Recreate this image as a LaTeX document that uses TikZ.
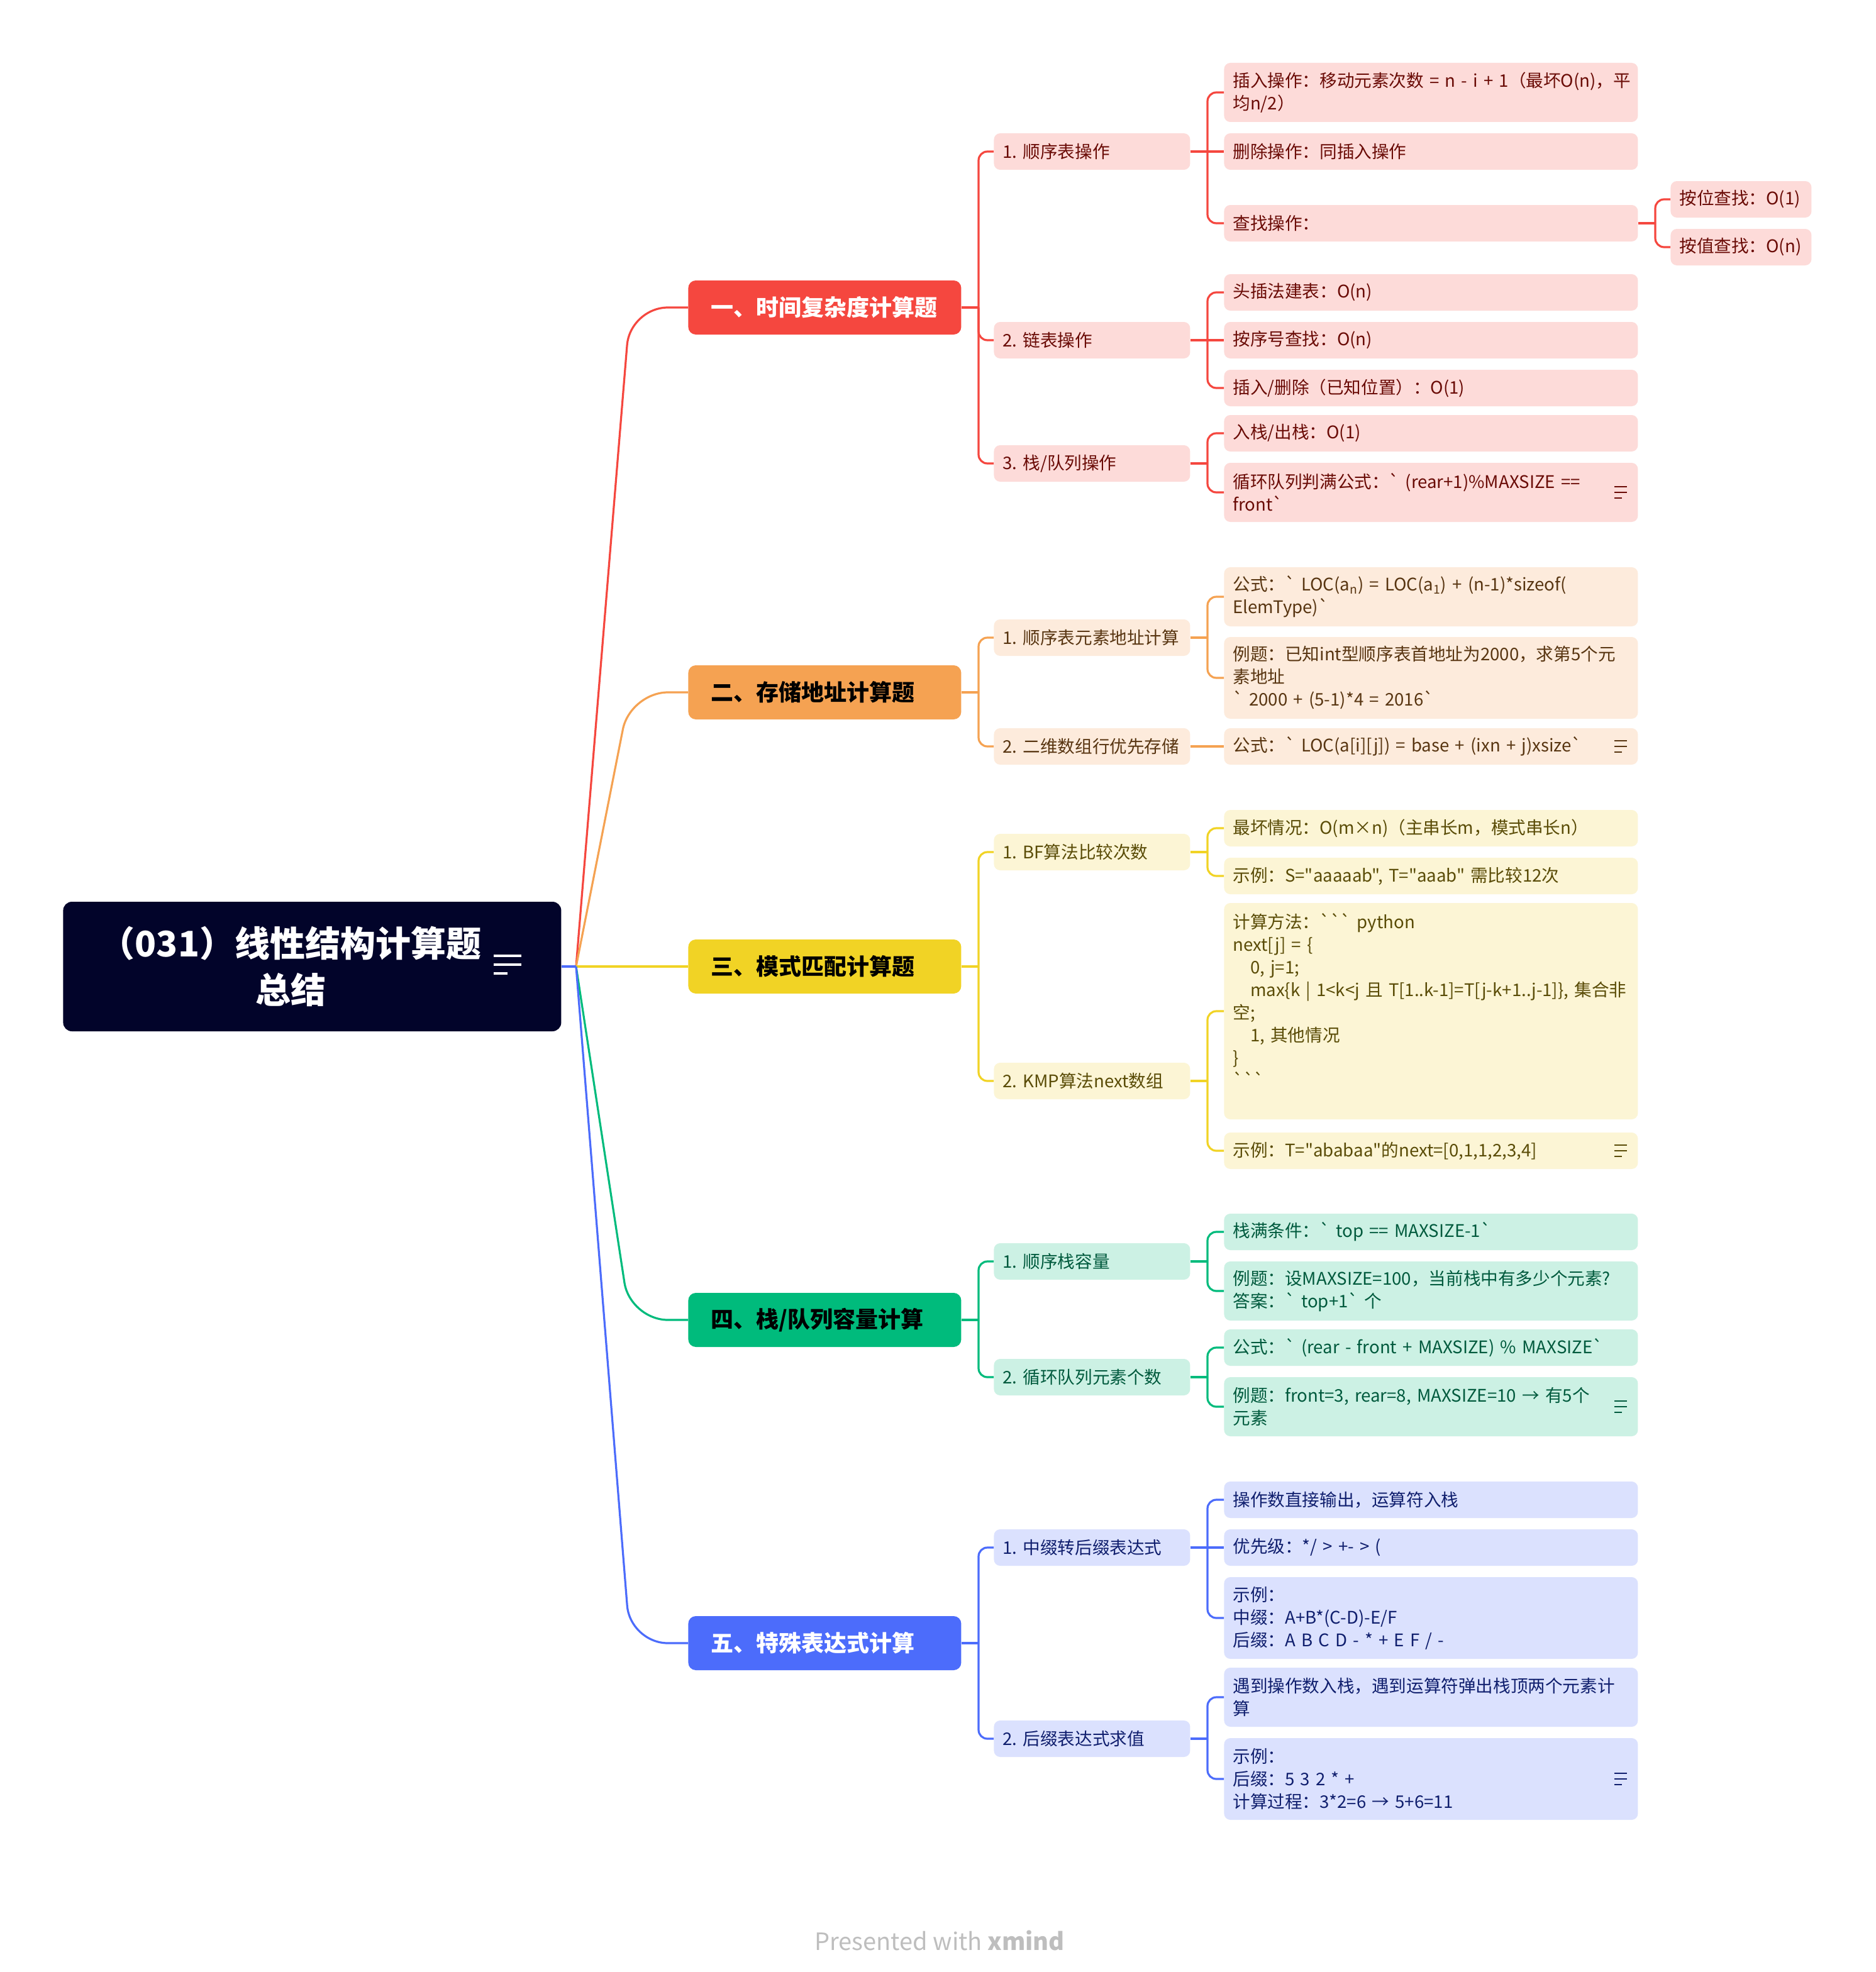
\documentclass[tikz,border=0pt]{standalone}
\usepackage{fontspec}
\newfontfamily\nf{Noto Sans CJK SC}
\usetikzlibrary{calc}
\definecolor{rootC}{HTML}{02042A}
\definecolor{redM}{HTML}{F5473F}
\definecolor{redL}{HTML}{FDDBD9}
\definecolor{redD}{HTML}{6A0B06}
\definecolor{orM}{HTML}{F5A252}
\definecolor{orL}{HTML}{FDEBDC}
\definecolor{orD}{HTML}{583511}
\definecolor{yeM}{HTML}{F1D325}
\definecolor{yeL}{HTML}{FCF5D5}
\definecolor{yeD}{HTML}{5A4C07}
\definecolor{grM}{HTML}{00BB7C}
\definecolor{grL}{HTML}{CCF1E4}
\definecolor{grD}{HTML}{005A3D}
\definecolor{blM}{HTML}{4C6CFB}
\definecolor{blL}{HTML}{DBE1FE}
\definecolor{blD}{HTML}{101F6E}
\definecolor{footC}{HTML}{BEBEBE}
\newcommand\mystub[3]{\draw[#1] (#2.east) -- (#2.east -| #3);}
\newcommand\mylink[4]{\draw[#1, rounded corners=7pt] (#2.east -| #3) |- (#4.west);}
\newcommand\noteicon[2]{%
  \draw[#2, line width=1.1pt]
    ([xshift=-19pt,yshift=4.5pt]#1.east) -- ([xshift=-9pt,yshift=4.5pt]#1.east)
    ([xshift=-19pt]#1.east) -- ([xshift=-9pt]#1.east)
    ([xshift=-19pt,yshift=-4.5pt]#1.east) -- ([xshift=-13pt,yshift=-4.5pt]#1.east);}
\begin{document}
\begin{tikzpicture}[x=1pt,y=-1pt,
  basebox/.style={rectangle, rounded corners=5pt, anchor=west, inner ysep=0pt, align=left,
    font=\nf\fontsize{13.8pt}{18pt}\selectfont\frenchspacing},
  lvC/.style={basebox, text width=315pt, inner xsep=7pt, minimum width=329pt, minimum height=29pt},
  lvD/.style={basebox, text width=98pt, inner xsep=7pt, minimum width=112pt, minimum height=29pt},
  lvB/.style={basebox, text width=142pt, inner xsep=7pt, minimum width=156pt, minimum height=29pt},
  lvA/.style={rectangle, rounded corners=6pt, anchor=west, inner ysep=0pt, align=left,
    text width=181pt, inner xsep=18pt, minimum width=217pt, minimum height=43pt,
    font=\nf\bfseries\fontsize{18pt}{22pt}\selectfont},
  bR/.style={fill=redL, text=redD},
  bO/.style={fill=orL, text=orD},
  bY/.style={fill=yeL, text=yeD},
  bG/.style={fill=grL, text=grD},
  bB/.style={fill=blL, text=blD},
  lR/.style={draw=redM, line width=1.6pt},
  lO/.style={draw=orM, line width=1.6pt},
  lY/.style={draw=yeM, line width=1.6pt},
  lG/.style={draw=grM, line width=1.6pt},
  lB/.style={draw=blM, line width=1.6pt},
  h2/.style={minimum height=47pt},
  h3/.style={minimum height=65pt}]
\fill[white] (0,0) rectangle (1491,1568);
\useasboundingbox (0,0) rectangle (1491,1568);

% junction columns
\coordinate (j1) at (778,0);
\coordinate (j2) at (960,0);
\coordinate (j3) at (1316,0);
\coordinate (jx) at (501,0);

% root
\node[rectangle, rounded corners=7pt, fill=rootC, minimum width=396pt, minimum height=103pt,
  anchor=west, inner sep=0pt] (rootbox) at (50,768.5) {};
\node[text=white, align=center, inner sep=0pt,
  font=\nf\bfseries\fontsize{28pt}{37pt}\selectfont] (root) at (231,768.5) {（031）线性结构计算题\\总结};
\coordinate (jr) at (458,768.5);

% level 1
\node[lvA, fill=redM, text=white] (A) at (547,244.5) {一、时间复杂度计算题};
\node[lvA, fill=orM, text=black] (B) at (547,550.5) {二、存储地址计算题};
\node[lvA, fill=yeM, text=black] (C) at (547,768.5) {三、模式匹配计算题};
\node[lvA, fill=grM, text=black] (D) at (547,1049.5) {四、栈/队列容量计算};
\node[lvA, fill=blM, text=white] (E) at (547,1306.5) {五、特殊表达式计算};

% level 2
\node[lvB,bR] (A1) at (790,120.5) {\mbox{1. 顺序表操作}};
\node[lvB,bR] (A2) at (790,270.5) {\mbox{2. 链表操作}};
\node[lvB,bR] (A3) at (790,368.5) {\mbox{3. 栈/队列操作}};
\node[lvB,bO] (B1) at (790,507) {\mbox{1. 顺序表元素地址计算}};
\node[lvB,bO] (B2) at (790,593.5) {\mbox{2. 二维数组行优先存储}};
\node[lvB,bY] (C1) at (790,677.5) {\mbox{1. BF算法比较次数}};
\node[lvB,bY] (C2) at (790,859.5) {\mbox{2. KMP算法next数组}};
\node[lvB,bG] (D1) at (790,1003) {\mbox{1. 顺序栈容量}};
\node[lvB,bG] (D2) at (790,1095) {\mbox{2. 循环队列元素个数}};
\node[lvB,bB] (E1) at (790,1230.5) {\mbox{1. 中缀转后缀表达式}};
\node[lvB,bB] (E2) at (790,1382.5) {\mbox{2. 后缀表达式求值}};

% level 3 red
\node[lvC,bR,h2] (A11) at (973,73.5) {\mbox{插入操作：移动元素次数 = n - i + 1（最坏O(n)，平}\\均n/2）};
\node[lvC,bR] (A12) at (973,120.5) {删除操作：同插入操作};
\node[lvC,bR] (A13) at (973,177.5) {查找操作：};
\node[lvD,bR] (A131) at (1328,158.5) {按位查找：O(1)};
\node[lvD,bR] (A132) at (1328,196.5) {按值查找：O(n)};
\node[lvC,bR] (A21) at (973,232.5) {头插法建表：O(n)};
\node[lvC,bR] (A22) at (973,270.5) {按序号查找：O(n)};
\node[lvC,bR] (A23) at (973,308.5) {插入/删除（已知位置）：O(1)};
\node[lvC,bR] (A31) at (973,344.5) {入栈/出栈：O(1)};
\node[lvC,bR,h2] (A32) at (973,391.5) {\mbox{循环队列判满公式：` (rear+1)\%MAXSIZE ==}\\front`};

% level 3 orange
\node[lvC,bO,h2] (B11) at (973,474.5) {\mbox{公式：` LOC(a\textsubscript{n}) = LOC(a\textsubscript{1}) + (n-1)*sizeof(}\\ElemType)`};
\node[lvC,bO,h3] (B12) at (973,539) {\mbox{例题：已知int型顺序表首地址为2000，求第5个元}\\素地址\\` 2000 + (5-1)*4 = 2016`};
\node[lvC,bO] (B21) at (973,593.5) {\mbox{公式：` LOC(a[i][j]) = base + (ixn + j)xsize`}};

% level 3 yellow
\node[lvC,bY] (C11) at (973,658.5) {\mbox{最坏情况：O(m×n)（主串长m，模式串长n）}};
\node[lvC,bY] (C12) at (973,696.5) {\mbox{示例：S="aaaaab", T="aaab" 需比较12次}};
\node[lvC,bY,minimum height=172pt] (C21) at (973,804) {计算方法：``` python\\next[j] = \{\\\hspace*{1em}0, j=1;\\\mbox{\hspace*{1em}max\{k | 1<k<j 且 T[1..k-1]=T[j-k+1..j-1]\}, 集合非}\\空;\\\hspace*{1em}1, 其他情况\\\}\\```\\\mbox{}};
\node[lvC,bY] (C22) at (973,915) {\mbox{示例：T="ababaa"的next=[0,1,1,2,3,4]}};

% level 3 green
\node[lvC,bG] (D11) at (973,979.5) {\mbox{栈满条件：` top == MAXSIZE-1`}};
\node[lvC,bG,h2] (D12) at (973,1026.5) {\mbox{例题：设MAXSIZE=100，当前栈中有多少个元素?}\\答案：` top+1` 个};
\node[lvC,bG] (D21) at (973,1071.5) {\mbox{公式：` (rear - front + MAXSIZE) \% MAXSIZE`}};
\node[lvC,bG,h2] (D22) at (973,1118.5) {\mbox{例题：front=3, rear=8, MAXSIZE=10 → 有5个}\\元素};

% level 3 blue
\node[lvC,bB] (E11) at (973,1192.5) {操作数直接输出，运算符入栈};
\node[lvC,bB] (E12) at (973,1230.5) {优先级：*/ > +- > (};
\node[lvC,bB,h3] (E13) at (973,1286.5) {示例：\\中缀：A+B*(C-D)-E/F\\后缀：A B C D - * + E F / -};
\node[lvC,bB,h2] (E21) at (973,1349.5) {\mbox{遇到操作数入栈，遇到运算符弹出栈顶两个元素计}\\算};
\node[lvC,bB,h3] (E22) at (973,1414.5) {示例：\\后缀：5 3 2 * +\\计算过程：3*2=6 → 5+6=11};

% footer
\node[font=\nf\fontsize{19pt}{22pt}\selectfont, text=footC] (foot) at (747,1543) {Presented with \textbf{xmind}};

% root connectors
\draw[lR, rounded corners=30pt] (jr) -- (A.west -| jx) -- (A.west);
\draw[lO, rounded corners=30pt] (jr) -- (B.west -| jx) -- (B.west);
\draw[lY] (rootbox.east) -- (C.west);
\draw[lG, rounded corners=30pt] (jr) -- (D.west -| jx) -- (D.west);
\draw[lB, rounded corners=30pt] (jr) -- (E.west -| jx) -- (E.west);
\draw[lB] (rootbox.east) -- (jr);

% red connectors
\mystub{lR}{A}{j1} \mylink{lR}{A}{j1}{A1} \mylink{lR}{A}{j1}{A2} \mylink{lR}{A}{j1}{A3}
\mystub{lR}{A1}{j2} \mylink{lR}{A1}{j2}{A11} \draw[lR] (A1.east) -- (A12.west); \mylink{lR}{A1}{j2}{A13}
\mystub{lR}{A13}{j3} \mylink{lR}{A13}{j3}{A131} \mylink{lR}{A13}{j3}{A132}
\mystub{lR}{A2}{j2} \mylink{lR}{A2}{j2}{A21} \draw[lR] (A2.east) -- (A22.west); \mylink{lR}{A2}{j2}{A23}
\mystub{lR}{A3}{j2} \mylink{lR}{A3}{j2}{A31} \mylink{lR}{A3}{j2}{A32}

% orange connectors
\mystub{lO}{B}{j1} \mylink{lO}{B}{j1}{B1} \mylink{lO}{B}{j1}{B2}
\mystub{lO}{B1}{j2} \mylink{lO}{B1}{j2}{B11} \mylink{lO}{B1}{j2}{B12}
\draw[lO] (B2.east) -- (B21.west);

% yellow connectors
\mystub{lY}{C}{j1} \mylink{lY}{C}{j1}{C1} \mylink{lY}{C}{j1}{C2}
\mystub{lY}{C1}{j2} \mylink{lY}{C1}{j2}{C11} \mylink{lY}{C1}{j2}{C12}
\mystub{lY}{C2}{j2} \mylink{lY}{C2}{j2}{C21} \mylink{lY}{C2}{j2}{C22}

% green connectors
\mystub{lG}{D}{j1} \mylink{lG}{D}{j1}{D1} \mylink{lG}{D}{j1}{D2}
\mystub{lG}{D1}{j2} \mylink{lG}{D1}{j2}{D11} \mylink{lG}{D1}{j2}{D12}
\mystub{lG}{D2}{j2} \mylink{lG}{D2}{j2}{D21} \mylink{lG}{D2}{j2}{D22}

% blue connectors
\mystub{lB}{E}{j1} \mylink{lB}{E}{j1}{E1} \mylink{lB}{E}{j1}{E2}
\mystub{lB}{E1}{j2} \mylink{lB}{E1}{j2}{E11} \draw[lB] (E1.east) -- (E12.west); \mylink{lB}{E1}{j2}{E13}
\mystub{lB}{E2}{j2} \mylink{lB}{E2}{j2}{E21} \mylink{lB}{E2}{j2}{E22}

% note icons
\noteicon{A32}{redD}
\noteicon{B21}{orD}
\noteicon{C22}{yeD}
\noteicon{D22}{grD}
\noteicon{E22}{blD}
\draw[white, line width=2.2pt]
  ([xshift=-54pt,yshift=8.5pt]rootbox.east) -- ([xshift=-32pt,yshift=8.5pt]rootbox.east)
  ([xshift=-54pt,yshift=1.5pt]rootbox.east) -- ([xshift=-32pt,yshift=1.5pt]rootbox.east)
  ([xshift=-54pt,yshift=-5.5pt]rootbox.east) -- ([xshift=-43pt,yshift=-5.5pt]rootbox.east);
\end{tikzpicture}
\end{document}
